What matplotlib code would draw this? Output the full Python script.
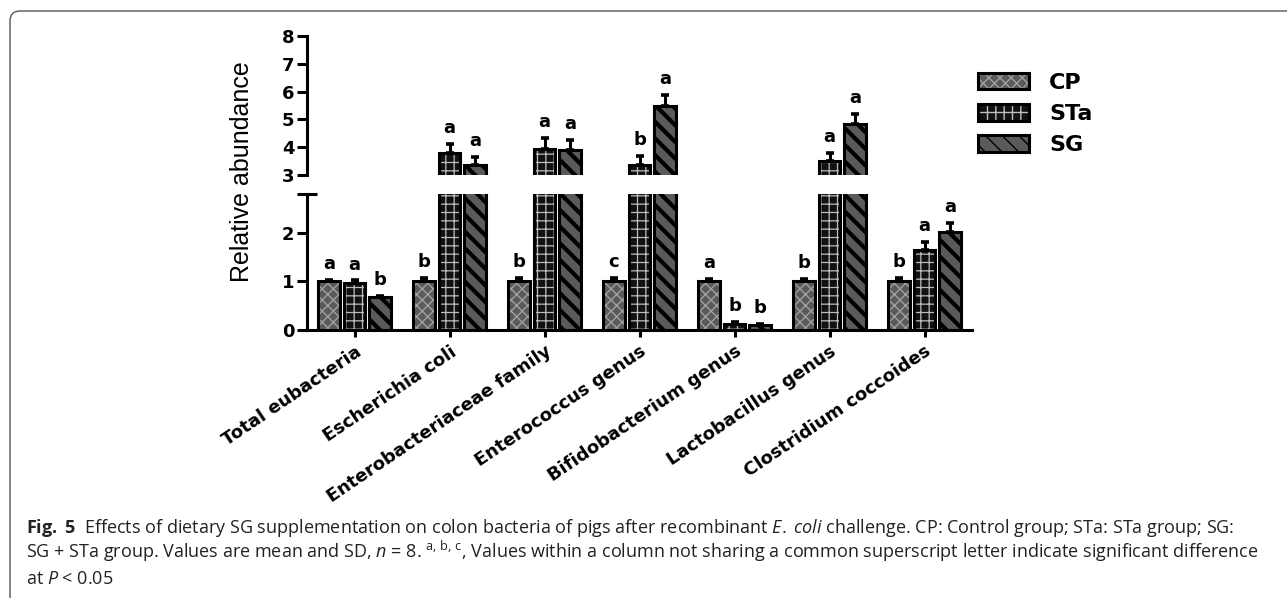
import matplotlib
matplotlib.use('Agg')
import numpy as np
import matplotlib.pyplot as plt
from matplotlib.patches import FancyBboxPatch
from matplotlib.transforms import IdentityTransform
from matplotlib.legend_handler import HandlerTuple

# colon bacteria, relative abundance (mean, SD)
categories = ['Total eubacteria', 'Escherichia coli', 'Enterobacteriaceae family',
              'Enterococcus genus', 'Bifidobacterium genus', 'Lactobacillus genus',
              'Clostridium coccoides']
groups = ['CP', 'STa', 'SG']

cp_mean = [1.0, 1.0, 1.0, 1.0, 1.0, 1.0, 1.0]
cp_sd = [0.03, 0.07, 0.07, 0.07, 0.05, 0.05, 0.07]
cp_letters = ['a', 'b', 'b', 'c', 'a', 'b', 'b']

sta_mean = [0.97, 3.80, 3.95, 3.37, 0.13, 3.50, 1.64]
sta_sd = [0.05, 0.32, 0.38, 0.30, 0.03, 0.30, 0.18]
sta_letters = ['a', 'a', 'a', 'b', 'b', 'a', 'a']

sg_mean = [0.67, 3.35, 3.90, 5.47, 0.10, 4.83, 2.02]
sg_sd = [0.03, 0.30, 0.35, 0.42, 0.02, 0.37, 0.18]
sg_letters = ['b', 'a', 'a', 'a', 'b', 'a', 'a']

series = [(cp_mean, cp_sd, cp_letters), (sta_mean, sta_sd, sta_letters), (sg_mean, sg_sd, sg_letters)]

styles = [
    dict(face='#5a5a5a', hatch='xxx', hcolor='#a0a0a0', hlw=1.0),
    dict(face='#111111', hatch='++', hcolor='#bdbdbd', hlw=0.9),
    dict(face='#5a5a5a', hatch='\\\\', hcolor='#000000', hlw=3.0),
]

plt.rcParams['font.family'] = ['DejaVu Sans']
plt.rcParams['mathtext.fontset'] = 'custom'
plt.rcParams['mathtext.rm'] = 'Open Sans'
plt.rcParams['mathtext.it'] = 'Open Sans:italic'
plt.rcParams['mathtext.bf'] = 'Open Sans:bold'

W, H = 1287, 598
fig = plt.figure(figsize=(W / 100, H / 100), dpi=100)

ax_top = fig.add_axes([307 / W, 1 - 175 / H, 665 / W, 139 / H])
ax_bot = fig.add_axes([307 / W, 1 - 330 / H, 665 / W, 136 / H])

x = np.arange(len(categories))
width = 0.23
offset = 0.27
BREAK = 2.8

handles = []
for ax in (ax_top, ax_bot):
    for i, (mean, sd, letters) in enumerate(series):
        st = styles[i]
        pos = x + (i - 1) * offset
        with plt.rc_context({'hatch.linewidth': st['hlw']}):
            fill = ax.bar(pos, mean, width, color=st['face'], edgecolor=st['hcolor'],
                          hatch=st['hatch'], linewidth=0)
        for p in fill:
            if hasattr(p, 'set_hatch_linewidth'):
                p.set_hatch_linewidth(st['hlw'])
        edge = ax.bar(pos, mean, width, fill=False, edgecolor='black', linewidth=2.2)
        ax.errorbar(pos, mean, yerr=[np.zeros(len(mean)), sd], fmt='none', ecolor='black',
                    elinewidth=2.2, capsize=3, capthick=2.6)
        if ax is ax_bot:
            handles.append((fill[0], edge[0]))

# significance letters, put on whichever panel holds the bar top
for i, (mean, sd, letters) in enumerate(series):
    pos = x + (i - 1) * offset
    for xp, m, s, lab in zip(pos, mean, sd, letters):
        top = m + s
        ax = ax_top if top > BREAK else ax_bot
        ax.annotate(lab, (xp, top), xytext=(0, 5), textcoords='offset points',
                    ha='center', va='bottom', fontsize=13, fontweight='bold',
                    annotation_clip=False)

ax_top.set_ylim(3, 8)
ax_bot.set_ylim(0, BREAK)
for ax in (ax_top, ax_bot):
    ax.set_xlim(-0.5, len(categories) - 0.5)
    ax.spines['top'].set_visible(False)
    ax.spines['right'].set_visible(False)
    ax.spines['left'].set_linewidth(2.2)
    ax.spines['bottom'].set_linewidth(2.2)
    ax.tick_params(axis='y', which='major', length=7, width=2.2, direction='out',
                   labelsize=13, pad=2)
    ax.tick_params(axis='y', which='minor', length=14, width=2.2, direction='inout')

ax_top.spines['bottom'].set_visible(False)
ax_top.set_xticks([])
ax_top.set_yticks(range(3, 9))
ax_top.set_yticks([3], minor=True)
ax_bot.set_yticks([0, 1, 2])
ax_bot.set_yticks([BREAK], minor=True)

ax_bot.set_xticks(x)
ax_bot.set_xticklabels(categories, rotation=34, ha='right', rotation_mode='anchor',
                       fontsize=13, fontweight='bold')
ax_bot.tick_params(axis='x', length=5, width=2.2, direction='out', pad=4)
for ax in (ax_top, ax_bot):
    for lab in ax.get_yticklabels():
        lab.set_fontweight('bold')

fig.text(242 / W, 1 - 172 / H, 'Relative abundance', rotation=90, ha='center', va='center',
         fontsize=18, family='Liberation Sans')

fig.legend(handles, groups, handler_map={tuple: HandlerTuple(ndivide=1, pad=0)},
           loc='upper left', bbox_to_anchor=(978 / W, 1 - 73 / H), frameon=False,
           prop=dict(weight='bold', size=16), handlelength=2.3, handleheight=0.75,
           handletextpad=0.9, labelspacing=0.5, borderpad=0, borderaxespad=0)

# caption under the chart
cap = dict(fontsize=13, family='Open Sans', color='#222222', va='baseline', ha='left')
fig.text(26 / W, 1 - 533 / H,
         r'$\mathbf{Fig.}$ $\mathbf{5}$  Effects of dietary SG supplementation on colon bacteria of pigs after '
         r'recombinant $\mathit{E.}$ $\mathit{coli}$ challenge. CP: Control group; STa: STa group; SG:', **cap)
fig.text(26 / W, 1 - 558 / H,
         r'SG + STa group. Values are mean and SD, $\mathit{n}$ = 8. $^{\mathrm{a,\,b,\,c}}$, '
         r'Values within a column not sharing a common superscript letter indicate significant difference',
         **cap)
fig.text(26 / W, 1 - 584 / H, r'at $\mathit{P}$ < 0.05', **cap)

# page frame with rounded corner
frame = FancyBboxPatch((10, -30), W + 40, H - 11 + 30, boxstyle='round,pad=0,rounding_size=10',
                       transform=IdentityTransform(), fill=False, edgecolor='#555555', linewidth=1.0)
fig.patches.append(frame)

fig.savefig('out.png', dpi=100)
